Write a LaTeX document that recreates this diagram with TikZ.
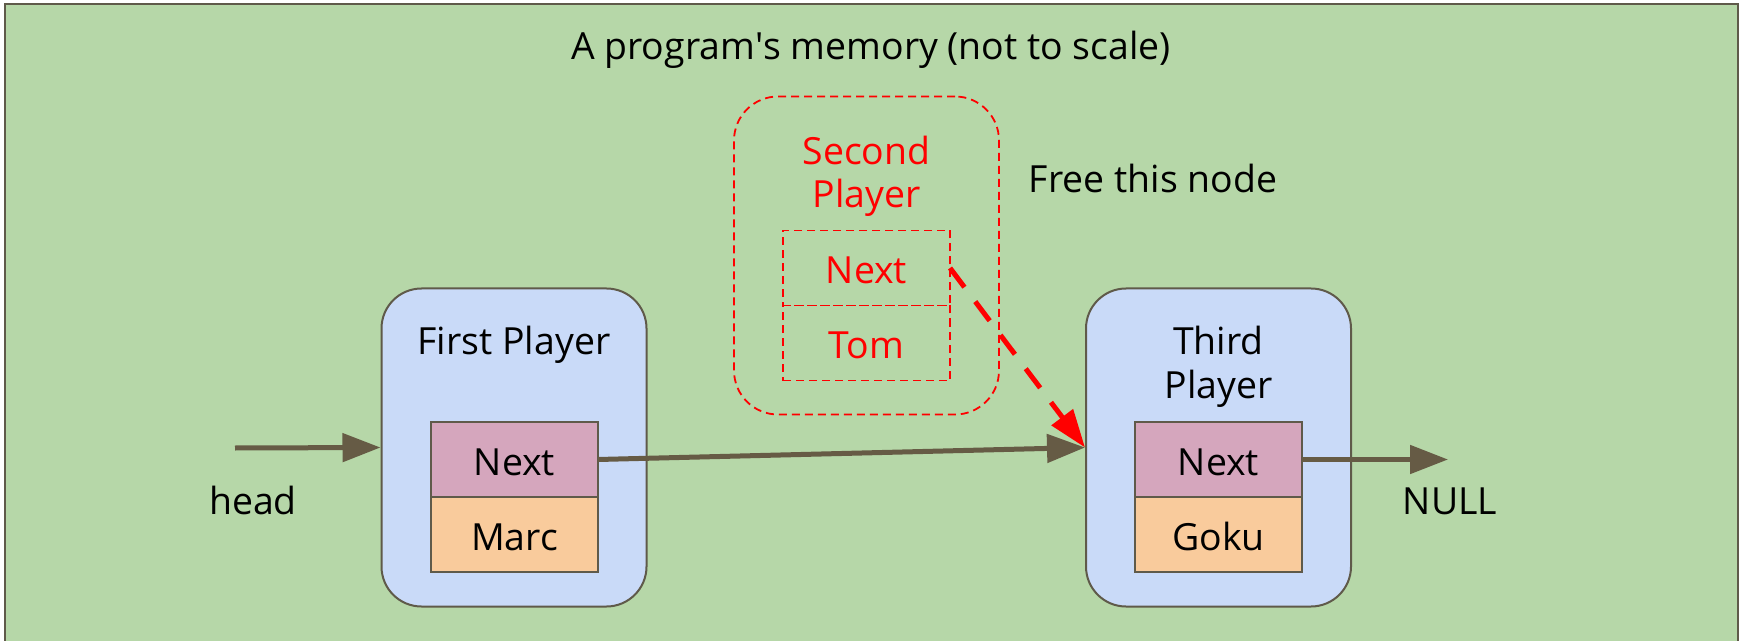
\documentclass[tikz,border=0pt]{standalone}
\usepackage{fontspec}
\setmainfont{Open Sans}
\usetikzlibrary{positioning,arrows.meta}
\definecolor{memgreen}{HTML}{B6D7A8}
\definecolor{nodeblue}{HTML}{C9DAF8}
\definecolor{fieldpink}{HTML}{D5A6BD}
\definecolor{fieldorange}{HTML}{F9CB9C}
\definecolor{linkbrown}{HTML}{665B45}
\definecolor{edgegray}{HTML}{5F5A4A}
\begin{document}
\begin{tikzpicture}[x=0.5pt, y=-0.5pt,
	every node/.style={font=\fontsize{18.7}{21.5}\selectfont, align=center},
	player/.style={draw=edgegray, line width=1pt, fill=nodeblue, rounded corners=20pt,
		minimum width=132.5pt, minimum height=159pt, inner sep=0pt},
	freed/.style={draw=red, line width=0.9pt, dash pattern=on 4pt off 2.5pt, rounded corners=22pt,
		minimum width=132.5pt, minimum height=159pt, inner sep=0pt},
	field/.style={draw=edgegray, line width=1pt, minimum width=83.5pt, minimum height=37.5pt,
		text height=15.5pt, text depth=0pt, inner sep=0pt, outer sep=0pt},
	freefield/.style={field, draw=red, line width=0.9pt, dash pattern=on 4pt off 2.5pt, text=red},
	link/.style={draw=linkbrown, line width=2.5pt, -{Triangle[length=19pt, width=14pt]}}]
		\useasboundingbox (0, 0) rectangle (1743, 641);
		\draw[fill=memgreen, draw=edgegray, line width=1pt] (5, 4) rectangle (1738, 700);
		
		\node[anchor=base] (title) at (871, 60) {A program\textquotesingle s memory (not to scale)};
		
		% nodes of the list
		\node[player] (first) at (514, 447.5) {};
		\node[freed] (second) at (866.5, 255.5) {};
		\node[player] (third) at (1218.5, 447.5) {};
		
		\node[anchor=base] (firstlabel) at (514, 355) {First Player};
		\node[anchor=base, text=red] (secondlabel) at (866.5, 208) {Second\\Player};
		\node[anchor=base] (thirdlabel) at (1218.5, 398) {Third\\Player};
		
		\node[field, fill=fieldpink] (next1) at (514.5, 459.5) {Next};
		\node[field, fill=fieldorange, below=0pt of next1] (data1) {Marc};
		\node[freefield] (next2) at (866.5, 268) {Next};
		\node[freefield, below=0pt of next2] (data2) {Tom};
		\node[field, fill=fieldpink] (next3) at (1218.5, 459.5) {Next};
		\node[field, fill=fieldorange, below=0pt of next3] (data3) {Goku};
		
		\node[anchor=base] (headlabel) at (253, 514) {head};
		\node[anchor=base] (nulllabel) at (1450, 514) {NULL};
		\node[anchor=base] (freelabel) at (1153, 193) {Free this node};
		
		% pointers
		\coordinate (headstart) at (235, 448);
		\coordinate (nullend) at (1448, 459.5);
		\draw[link] (headstart) -- (first.west);
		\draw[link] (next1.east) -- (third.west);
		\draw[link] (next3.east) -- (nullend);
		\draw[red, line width=2.5pt, dash pattern=on 12pt off 9pt, -{Triangle[length=19pt, width=13pt]}] (next2.east) -- (third.west);
	\end{tikzpicture}
\end{document}
